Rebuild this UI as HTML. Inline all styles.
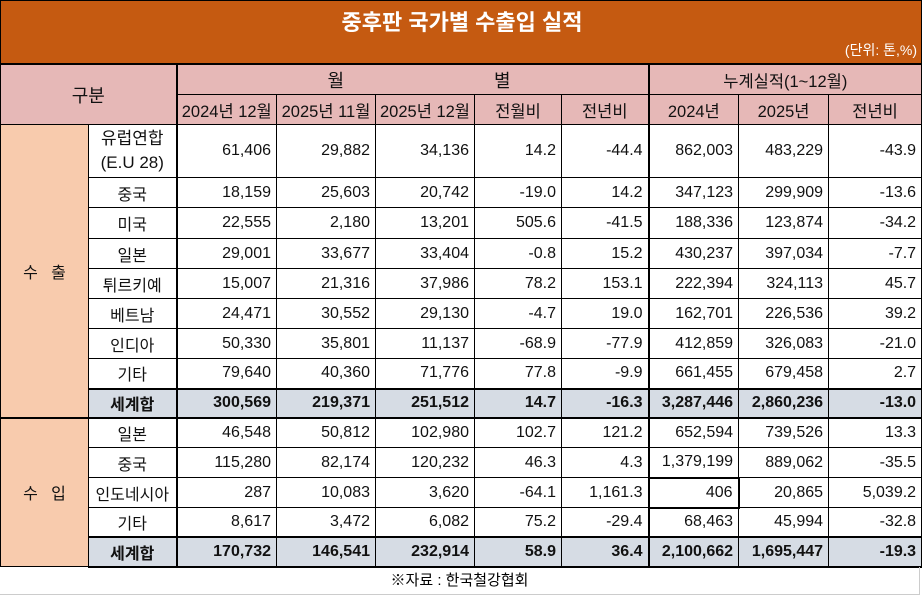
<!DOCTYPE html>
<html><head><meta charset="utf-8"><style>
*{margin:0;padding:0;box-sizing:border-box}
body{width:922px;height:597px;background:#fff;font-family:"Liberation Sans","Noto Sans CJK KR","NanumGothic",sans-serif;overflow:hidden;position:relative}
.title{position:absolute;left:0;top:0;width:922px;height:65px;background:#c55a11;color:#fff;border:1px solid #000;border-bottom:2px solid #000}
.title .t{position:absolute;left:0;width:922px;top:4px;text-align:center;font-size:22px;font-weight:bold}
.title .u{position:absolute;right:4px;top:39px;font-size:14px;color:#fff}
table{position:absolute;left:0;top:64px;width:921px;border-collapse:collapse;table-layout:fixed;font-size:16px}
td{border:1px solid #000;text-align:right;padding:0 5px;white-space:nowrap;overflow:hidden;background:#fff;color:#111}
td.c{text-align:center;padding:0}
.h td{background:#e6b8b7;text-align:center;padding:0;font-size:16.5px}
.lab{background:#f8cbad !important;text-align:center}
.s td{background:#d6dce4;font-weight:bold;border-top:2px solid #000;border-bottom:2px solid #000}
.g{border-left:2px solid #000}
.src{position:absolute;left:0;top:567px;width:920px;height:28px;text-align:center;font-size:15px;line-height:28px;border-bottom:1px solid #ccc;border-right:1px solid #ccc}
</style></head><body>
<div class="title"><div class="t">중후판 국가별 수출입 실적</div><div class="u">(단위: 톤,%)</div></div>
<table>
<colgroup><col style="width:88px"><col style="width:88px"><col style="width:100px"><col style="width:99px"><col style="width:99px"><col style="width:87px"><col style="width:87px"><col style="width:90px"><col style="width:90px"><col style="width:93px"></colgroup>
<tr class="h" style="height:30px"><td colspan="2" rowspan="2" style="font-size:18px">구분</td><td colspan="5" class="g" style="font-size:18px;letter-spacing:150px;padding-left:150px">월별</td><td colspan="3" class="g">누계실적(1~12월)</td></tr>
<tr class="h" style="height:30px"><td class="g">2024년 12월</td><td>2025년 11월</td><td>2025년 12월</td><td>전월비</td><td>전년비</td><td class="g">2024년</td><td>2025년</td><td>전년비</td></tr>
<tr style="height:53px"><td rowspan="9" class="lab c" style="border-bottom:2px solid #000">수&nbsp;&nbsp;&nbsp;출</td><td class="c" style="line-height:24px;font-size:17px">유럽연합<br>(E.U 28)</td><td class="g">61,406</td><td>29,882</td><td>34,136</td><td>14.2</td><td>-44.4</td><td class="g">862,003</td><td>483,229</td><td>-43.9</td></tr>
<tr style="height:30px"><td class="c">중국</td><td class="g">18,159</td><td>25,603</td><td>20,742</td><td>-19.0</td><td>14.2</td><td class="g">347,123</td><td>299,909</td><td>-13.6</td></tr>
<tr style="height:31px"><td class="c">미국</td><td class="g">22,555</td><td>2,180</td><td>13,201</td><td>505.6</td><td>-41.5</td><td class="g">188,336</td><td>123,874</td><td>-34.2</td></tr>
<tr style="height:30px"><td class="c">일본</td><td class="g">29,001</td><td>33,677</td><td>33,404</td><td>-0.8</td><td>15.2</td><td class="g">430,237</td><td>397,034</td><td>-7.7</td></tr>
<tr style="height:30px"><td class="c">튀르키예</td><td class="g">15,007</td><td>21,316</td><td>37,986</td><td>78.2</td><td>153.1</td><td class="g">222,394</td><td>324,113</td><td>45.7</td></tr>
<tr style="height:30px"><td class="c">베트남</td><td class="g">24,471</td><td>30,552</td><td>29,130</td><td>-4.7</td><td>19.0</td><td class="g">162,701</td><td>226,536</td><td>39.2</td></tr>
<tr style="height:30px"><td class="c">인디아</td><td class="g">50,330</td><td>35,801</td><td>11,137</td><td>-68.9</td><td>-77.9</td><td class="g">412,859</td><td>326,083</td><td>-21.0</td></tr>
<tr style="height:30px"><td class="c">기타</td><td class="g">79,640</td><td>40,360</td><td>71,776</td><td>77.8</td><td>-9.9</td><td class="g">661,455</td><td>679,458</td><td>2.7</td></tr>
<tr class="s" style="height:29px"><td class="c">세계합</td><td class="g">300,569</td><td>219,371</td><td>251,512</td><td>14.7</td><td>-16.3</td><td class="g">3,287,446</td><td>2,860,236</td><td>-13.0</td></tr>
<tr style="height:30px"><td rowspan="5" class="lab c">수&nbsp;&nbsp;&nbsp;입</td><td class="c">일본</td><td class="g">46,548</td><td>50,812</td><td>102,980</td><td>102.7</td><td>121.2</td><td class="g">652,594</td><td>739,526</td><td>13.3</td></tr>
<tr style="height:30px"><td class="c">중국</td><td class="g">115,280</td><td>82,174</td><td>120,232</td><td>46.3</td><td>4.3</td><td class="g">1,379,199</td><td>889,062</td><td>-35.5</td></tr>
<tr style="height:30px"><td class="c">인도네시아</td><td class="g">287</td><td>10,083</td><td>3,620</td><td>-64.1</td><td>1,161.3</td><td class="g" style="border:2px solid #000">406</td><td>20,865</td><td>5,039.2</td></tr>
<tr style="height:29px"><td class="c">기타</td><td class="g">8,617</td><td>3,472</td><td>6,082</td><td>75.2</td><td>-29.4</td><td class="g">68,463</td><td>45,994</td><td>-32.8</td></tr>
<tr class="s" style="height:30px"><td class="c">세계합</td><td class="g">170,732</td><td>146,541</td><td>232,914</td><td>58.9</td><td>36.4</td><td class="g">2,100,662</td><td>1,695,447</td><td>-19.3</td></tr>
</table>
<div class="src">※자료 : 한국철강협회</div>
</body></html>
